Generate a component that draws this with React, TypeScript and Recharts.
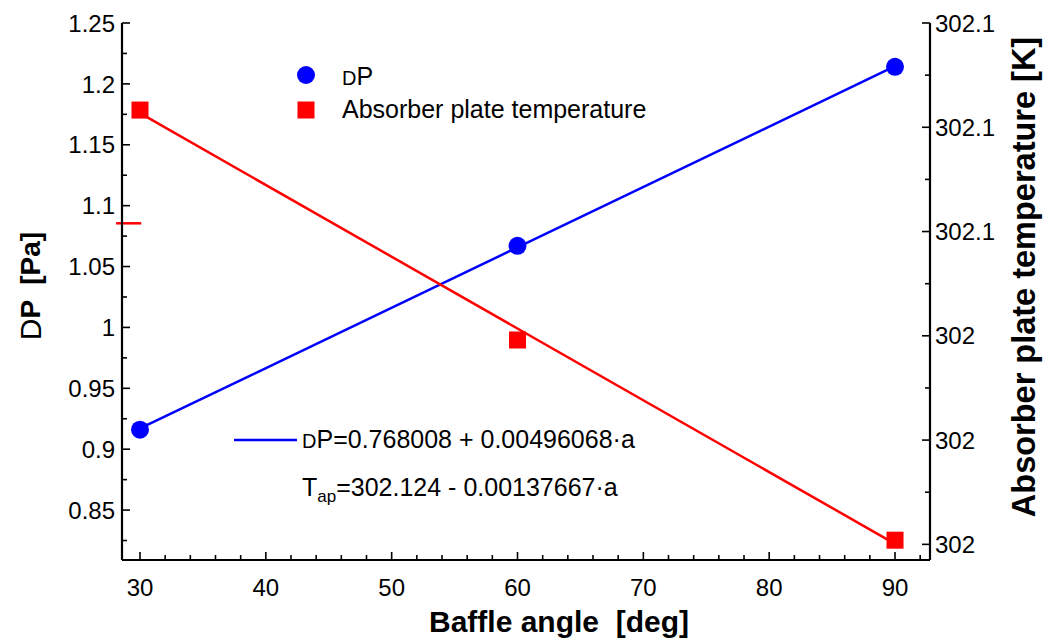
import React from "react";
import { ComposedChart, Line, Scatter, XAxis, YAxis, ReferenceLine } from "recharts";

// baffle angle [deg] where results were taken
const angles = [30, 60, 90];
const dpValues = [0.916, 1.067, 1.214];
const tempValues = [302.0833, 302.0392, 302.0008];

// regression lines (end points)
const fitAngles = [30, 90];
const dpFit = [0.917, 1.2145];
const tempFit = [302.0827, 302.0001];

// stray red mark on the left axis
const markAngles = [28.1, 30.1];
const markLevel = 1.0855;

const angleMajor = [30, 40, 50, 60, 70, 80, 90];
const angleMinor = [32, 34, 36, 38, 42, 44, 46, 48, 52, 54, 56, 58, 62, 64, 66, 68, 72, 74, 76, 78, 82, 84, 86, 88, 92];
const dpMajor = [0.85, 0.9, 0.95, 1, 1.05, 1.1, 1.15, 1.2, 1.25];
const dpMinor = [0.825, 0.875, 0.925, 0.975, 1.025, 1.075, 1.125, 1.175, 1.225];
const tempMajor = [302, 302.02, 302.04, 302.06, 302.08, 302.1];
const tempMinor = [302.01, 302.03, 302.05, 302.07, 302.09];

const FONT = "Arial, 'Liberation Sans', sans-serif";
const BLUE = "#0000ff";
const RED = "#ff0000";

const dpPoints = angles.map((a, i) => ({ angle: a, dp: dpValues[i] }));
const tempPoints = angles.map((a, i) => ({ angle: a, temp: tempValues[i] }));
const dpLine = fitAngles.map((a, i) => ({ angle: a, dp: dpFit[i] }));
const tempLine = fitAngles.map((a, i) => ({ angle: a, temp: tempFit[i] }));

const sortTicks = (a: number[], b: number[]) => [...a, ...b].sort((p, q) => p - q);
const isMajor = (list: number[], v: number) => list.some((t) => Math.abs(t - v) < 1e-6);

function LeftTick(props: any) {
  const { x, y, payload } = props;
  const major = isMajor(dpMajor, payload.value);
  return (
    <g>
      <line x1={x} y1={y} x2={x + (major ? 8 : 5)} y2={y} stroke="#000" strokeWidth={1.6} />
      {major && (
        <text x={x - 7} y={y} dy="0.36em" textAnchor="end" fontSize={24} fontFamily={FONT} fill="#000">
          {String(Number(payload.value.toFixed(3)))}
        </text>
      )}
    </g>
  );
}

function RightTick(props: any) {
  const { x, y, payload } = props;
  const major = isMajor(tempMajor, payload.value);
  return (
    <g>
      <line x1={x} y1={y} x2={x - (major ? 8 : 5)} y2={y} stroke="#000" strokeWidth={1.6} />
      {major && (
        <text x={x + 5} y={y} dy="0.36em" textAnchor="start" fontSize={24} fontFamily={FONT} fill="#000">
          {String(Number(payload.value.toFixed(1)))}
        </text>
      )}
    </g>
  );
}

function BottomTick(props: any) {
  const { x, y, payload } = props;
  const major = isMajor(angleMajor, payload.value);
  return (
    <g>
      <line x1={x} y1={y} x2={x} y2={y - (major ? 8 : 5)} stroke="#000" strokeWidth={1.6} />
      {major && (
        <text x={x} y={y + 36} textAnchor="middle" fontSize={24} fontFamily={FONT} fill="#000">
          {payload.value}
        </text>
      )}
    </g>
  );
}

function TopTick(props: any) {
  const { x, y, payload } = props;
  const major = isMajor(angleMajor, payload.value);
  return <line x1={x} y1={y} x2={x} y2={y + (major ? 8 : 5)} stroke="#000" strokeWidth={1.6} />;
}

const Dot = (props: any) => <circle cx={props.cx} cy={props.cy} r={9} fill={BLUE} />;
const Square = (props: any) => <rect x={props.cx - 8.5} y={props.cy - 8.5} width={17} height={17} fill={RED} />;

export default function App() {
  const axisLine = { stroke: "#000", strokeWidth: 2.2 };
  return (
    <div style={{ position: "absolute", left: 0, top: 0, width: 1050, height: 640, background: "#fff" }}>
      <ComposedChart width={1050} height={640} margin={{ top: 23, right: 0, bottom: 0, left: 0 }}>
        <XAxis
          dataKey="angle"
          type="number"
          domain={[28.57, 92.78]}
          allowDataOverflow
          ticks={sortTicks(angleMajor, angleMinor)}
          interval={0}
          height={80}
          tickSize={0}
          tickMargin={0}
          tickLine={false}
          axisLine={axisLine}
          tick={<BottomTick />}
        />
        <XAxis
          xAxisId="top"
          orientation="top"
          dataKey="angle"
          type="number"
          domain={[28.57, 92.78]}
          allowDataOverflow
          ticks={sortTicks(angleMajor, angleMinor)}
          interval={0}
          height={0}
          tickSize={0}
          tickMargin={0}
          tickLine={false}
          axisLine={axisLine}
          tick={<TopTick />}
        />
        <YAxis
          yAxisId="left"
          type="number"
          domain={[0.809, 1.25]}
          allowDataOverflow
          ticks={sortTicks(dpMajor, dpMinor)}
          interval={0}
          width={122}
          tickSize={0}
          tickMargin={0}
          tickLine={false}
          axisLine={axisLine}
          tick={<LeftTick />}
        />
        <YAxis
          yAxisId="right"
          orientation="right"
          type="number"
          domain={[301.997, 302.1]}
          allowDataOverflow
          ticks={sortTicks(tempMajor, tempMinor)}
          interval={0}
          width={120}
          tickSize={0}
          tickMargin={0}
          tickLine={false}
          axisLine={axisLine}
          tick={<RightTick />}
        />
        <ReferenceLine
          yAxisId="left"
          segment={[
            { x: markAngles[0], y: markLevel },
            { x: markAngles[1], y: markLevel },
          ]}
          stroke={RED}
          strokeWidth={2.5}
          ifOverflow="visible"
        />
        <Line data={dpLine} dataKey="dp" yAxisId="left" stroke={BLUE} strokeWidth={2.5} dot={false} isAnimationActive={false} />
        <Line data={tempLine} dataKey="temp" yAxisId="right" stroke={RED} strokeWidth={2.5} dot={false} isAnimationActive={false} />
        <Scatter data={dpPoints} dataKey="dp" yAxisId="left" shape={Dot} isAnimationActive={false} />
        <Scatter data={tempPoints} dataKey="temp" yAxisId="right" shape={Square} isAnimationActive={false} />
      </ComposedChart>

      <svg width={1050} height={640} style={{ position: "absolute", left: 0, top: 0, pointerEvents: "none" }} fontFamily={FONT}>
        {/* legend */}
        <circle cx={306} cy={75} r={9} fill={BLUE} />
        <text x={342} y={85} fontSize={25} fill="#000">
          <tspan fontSize={20}>D</tspan>P
        </text>
        <rect x={297.5} y={101.5} width={17} height={17} fill={RED} />
        <text x={342} y={118} fontSize={25} fill="#000">Absorber plate temperature</text>

        {/* fit equations */}
        <line x1={234} y1={440} x2={297} y2={440} stroke={BLUE} strokeWidth={2.5} />
        <text x={302} y={448} fontSize={25} fill="#000">
          <tspan fontSize={20}>D</tspan>P=0.768008 + 0.00496068·a
        </text>
        <text x={302} y={496} fontSize={25} fill="#000">
          T<tspan fontSize={17} dy={6}>ap</tspan><tspan dy={-6}>=302.124 - 0.00137667·a</tspan>
        </text>

        {/* axis titles */}
        <text x={559} y={632} textAnchor="middle" fontSize={30} fontWeight="bold" fill="#000" style={{ whiteSpace: "pre" }}>
          Baffle angle  [deg]
        </text>
        <text
          transform="translate(30, 286) rotate(-90)"
          textAnchor="middle"
          dominantBaseline="central"
          fontSize={28}
          fontWeight="bold"
          fill="#000"
          style={{ whiteSpace: "pre" }}
        >
          <tspan fontWeight="normal" fontSize={30}>D</tspan>P  [Pa]
        </text>
        <text
          transform="translate(1024, 277) rotate(-90)"
          textAnchor="middle"
          dominantBaseline="central"
          fontSize={32.5}
          fontWeight="bold"
          fill="#000"
        >
          Absorber plate temperature [K]
        </text>
      </svg>
    </div>
  );
}
